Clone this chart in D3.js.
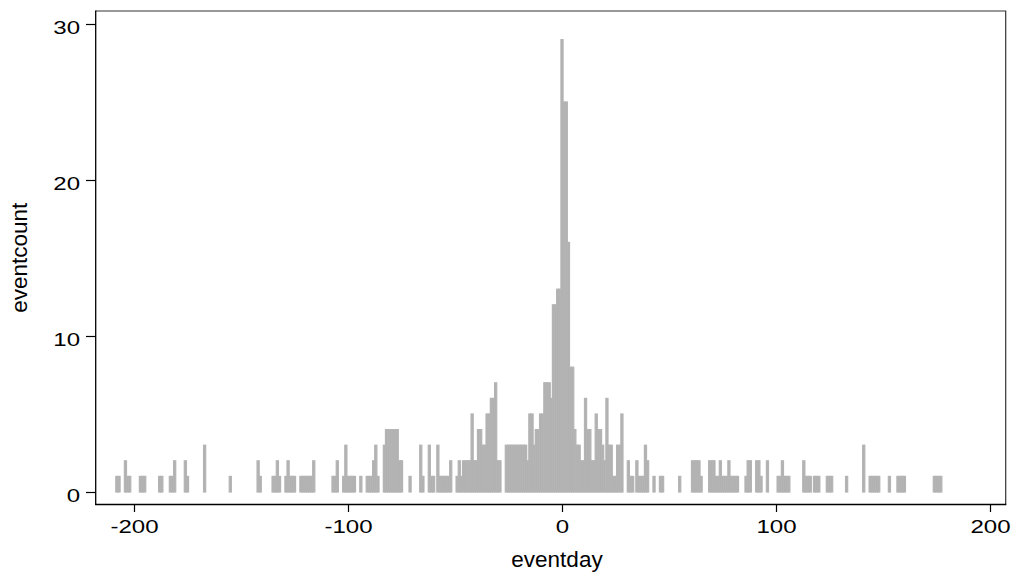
<!DOCTYPE html>
<html>
<head>
<meta charset="utf-8">
<script src="https://cdn.jsdelivr.net/npm/d3@7"></script>
<style>
  html, body { margin: 0; padding: 0; background: #fff; }
  svg { display: block; }
  text { font-family: "Liberation Sans", Arial, Helvetica, sans-serif; fill: #000; }
</style>
</head>
<body>
<svg id="chart" width="1012" height="572"></svg>
<script>
// ---- data ----
const eventday = [
  -208, -207, -204, -203, -202, -197, -196, -195, -188, -187,
  -183, -182, -181, -176, -175, -167, -155, -142, -141,
  -135, -134, -133, -132, -129, -128, -127, -126, -125,
  -122, -121, -120, -119, -118, -117, -116, -107, -106, -105,
  -102, -101, -100, -99, -98, -97, -94, -91, -90, -89, -88, -87, -86,
  -83, -82, -81, -80, -79, -78, -77, -76, -75, -71,
  -66, -65, -62, -61, -60, -58, -57, -56, -55, -54, -53, -52,
  -49, -48, -47, -46, -45, -44, -43, -42, -41, -40, -39, -38, -37, -36,
  -35, -34, -33, -32, -31, -30, -29,
  -26, -25, -24, -23, -22, -21, -20, -19, -18, -17,
  -16, -15, -14, -13, -12, -11, -10, -9, -8, -7, -6, -5, -4, -3, -2, -1,
  0, 1, 2, 3, 4, 5, 6, 7, 8, 9, 10, 11, 12, 13, 14, 15, 16, 17, 18, 19,
  20, 21, 22, 23, 24, 25, 26, 27, 28,
  31, 32, 33, 35, 36, 37, 38, 39, 40, 43, 46, 47, 55,
  61, 62, 63, 64, 65, 69, 70, 71, 72, 73, 74, 75, 76, 77, 78, 79, 80, 81, 82,
  86, 87, 88, 91, 92, 93, 96, 101, 102, 103, 104, 105, 106,
  113, 114, 115, 116, 118, 119, 120, 124, 125, 126, 133, 141,
  144, 145, 146, 147, 148, 153, 157, 158, 159, 160, 174, 175, 176, 177
];
const eventcount = [
  1, 1, 2, 1, 1, 1, 1, 1, 1, 1,
  1, 1, 2, 2, 1, 3, 1, 2, 1,
  1, 1, 2, 1, 1, 2, 1, 1, 1,
  1, 1, 1, 1, 1, 1, 2, 1, 1, 2,
  1, 3, 1, 1, 1, 1, 1, 1, 1, 1, 2, 3, 1,
  3, 4, 4, 4, 4, 4, 4, 2, 2, 1,
  3, 1, 3, 1, 1, 3, 1, 1, 1, 1, 1, 2,
  1, 2, 1, 2, 2, 2, 2, 5, 2, 2, 4, 4, 3, 3,
  5, 5, 6, 6, 7, 2, 2,
  3, 3, 3, 3, 3, 3, 3, 3, 3, 3,
  2, 5, 5, 3, 4, 4, 5, 5, 7, 7, 7, 6, 12, 12, 13, 13,
  29, 25, 25, 16, 8, 8, 4, 3, 3, 2, 2, 6, 4, 4, 2, 2, 5, 4, 4, 3,
  2, 6, 3, 3, 1, 1, 3, 3, 5,
  2, 1, 1, 2, 1, 1, 1, 3, 2, 1, 1, 1, 1,
  2, 2, 2, 2, 1, 2, 2, 2, 1, 1, 2, 1, 1, 1, 2, 1, 1, 1, 1,
  1, 2, 2, 2, 2, 1, 2, 1, 1, 2, 1, 1, 1,
  2, 1, 1, 1, 1, 1, 1, 1, 1, 1, 1, 3,
  1, 1, 1, 1, 1, 1, 1, 1, 1, 1, 1, 1, 1, 1
];
const xTickValues = [-200, -100, 0, 100, 200];
const yTickValues = [0, 10, 20, 30];
const xTitle = "eventday";
const yTitle = "eventcount";

const rows = eventday.map((d, i) => ({ day: d, count: eventcount[i] }));

// ---- layout ----
const svg = d3.select("#chart");
const frame = { left: 95.7, right: 1005.7, top: 11, bottom: 504.5 };

const x = d3.scaleLinear().domain([-200, 200]).range([134, 990]);
const y = d3.scaleLinear().domain([0, 30]).range([492, 24]);

// bars
svg.append("g")
  .selectAll("rect")
  .data(rows)
  .join("rect")
  .attr("x", d => x(d.day - 0.5))
  .attr("width", d => x(d.day + 0.5) - x(d.day - 0.5))
  .attr("y", d => y(d.count))
  .attr("height", d => y(0) - y(d.count))
  .attr("fill", "#b1b1b1")
  .attr("stroke", "#b4b4b4")
  .attr("stroke-width", 1.2);

// plot frame (top / right)
svg.append("path")
  .attr("d", `M${frame.left},${frame.top}H${frame.right}V${frame.bottom}`)
  .attr("fill", "none")
  .attr("stroke", "#333")
  .attr("stroke-width", 1.2);

const sx = 1.3; // horizontal stretch of tick label glyphs

// y axis
const yAxis = d3.axisLeft(y).tickValues(yTickValues).tickSizeInner(9.7).tickSizeOuter(0).tickPadding(6);
const gy = svg.append("g").attr("transform", `translate(${frame.left},0)`).call(yAxis);
gy.select(".domain").remove();
gy.selectAll(".tick line").attr("stroke", "#000").attr("stroke-width", 1.2);
gy.selectAll(".tick text")
  .attr("font-size", 18.5)
  .attr("font-family", "Liberation Sans, Arial, sans-serif")
  .attr("x", -15.7 / sx)
  .attr("dy", "0.5em")
  .attr("transform", `scale(${sx},1)`);
gy.append("line")
  .attr("x1", 0).attr("x2", 0)
  .attr("y1", frame.top - 0.6).attr("y2", frame.bottom + 0.6)
  .attr("stroke", "#000").attr("stroke-width", 1.3);

// x axis
const xAxis = d3.axisBottom(x).tickValues(xTickValues).tickSizeInner(7.5).tickSizeOuter(0).tickPadding(8.2)
  .tickFormat(d3.format("d"));
const gx = svg.append("g").attr("transform", `translate(0,${frame.bottom})`).call(xAxis);
gx.select(".domain").remove();
gx.selectAll(".tick line").attr("stroke", "#000").attr("stroke-width", 1.2);
gx.selectAll(".tick text")
  .attr("font-size", 18.5)
  .attr("font-family", "Liberation Sans, Arial, sans-serif")
  .attr("transform", `scale(${sx},1)`)
  .text(d => (d < 0 ? "-" + Math.abs(d) : String(d)));
gx.append("line")
  .attr("x1", frame.left - 0.6).attr("x2", frame.right + 0.6)
  .attr("y1", 0).attr("y2", 0)
  .attr("stroke", "#000").attr("stroke-width", 1.3);

// axis titles
svg.append("text")
  .attr("x", 557).attr("y", 566.5)
  .attr("text-anchor", "middle")
  .attr("font-size", 22.5)
  .text(xTitle);

svg.append("text")
  .attr("transform", `translate(27,${(frame.top + frame.bottom) / 2}) rotate(-90)`)
  .attr("text-anchor", "middle")
  .attr("font-size", 22.5)
  .text(yTitle);
</script>
</body>
</html>
